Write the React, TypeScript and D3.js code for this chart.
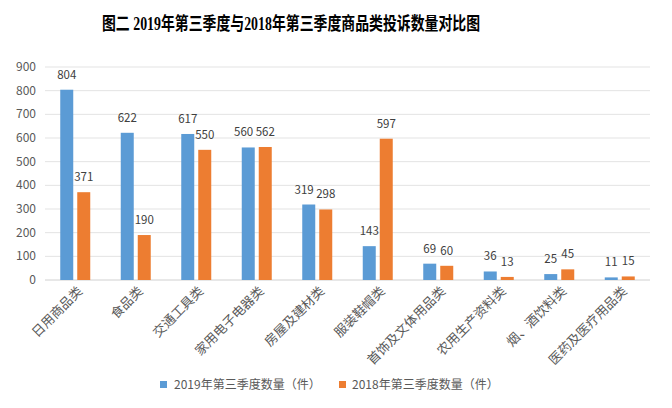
import React from "react";
import * as d3 from "d3";

const categories = ["日用商品类", "食品类", "交通工具类", "家用电子电器类", "房屋及建材类", "服装鞋帽类", "首饰及文体用品类", "农用生产资料类", "烟、酒饮料类", "医药及医疗用品类"];
const values2019 = [804, 622, 617, 560, 319, 143, 69, 36, 25, 11];
const values2018 = [371, 190, 550, 562, 298, 597, 60, 13, 45, 15];
const seriesNames = ["2019年第三季度数量（件）", "2018年第三季度数量（件）"];
const yTicks = [0, 100, 200, 300, 400, 500, 600, 700, 800, 900];
const title = "图二  2019年第三季度与2018年第三季度商品类投诉数量对比图";

const colors = ["#5B9BD5", "#ED7D31"];

export default function App() {
  const W = 672, H = 408;
  const left = 45, right = 650, top = 67, bottom = 280;
  const x = d3.scaleBand<string>().domain(categories).range([left, right]).paddingInner(0.47).paddingOuter(0.235);
  const y = d3.scaleLinear().domain([0, 900]).range([bottom, top]);
  const bw = 13, gap = 4;
  const font = "'Microsoft YaHei', 'Noto Sans CJK SC', sans-serif";
  const labelFs = 11.5;
  const digitW = labelFs * 0.57;
  return (
    <svg width={W} height={H} style={{ position: "absolute", left: 0, top: 0, background: "#fff" }}>
      <text x={102} y={30} textLength={378} lengthAdjust="spacingAndGlyphs" fontSize={18} fontWeight="bold" fontFamily="'Liberation Serif', 'Noto Sans CJK SC', serif" fill="#000">{title}</text>
      {yTicks.map(t => (
        <g key={t}>
          <line x1={left} x2={right} y1={y(t)} y2={y(t)} stroke={t === 0 ? "#d0d0d0" : "#e3e3e3"} strokeWidth={1} />
          <text x={36} y={y(t) + 4} textAnchor="end" fontSize={12} fontFamily={font} fill="#595959">{t}</text>
        </g>
      ))}
      {categories.map((c, i) => {
        const cx = (x(c) as number) + x.bandwidth() / 2;
        const b1 = cx - gap / 2 - bw, b2 = cx + gap / 2;
        const v1 = values2019[i], v2 = values2018[i];
        const w1 = String(v1).length * digitW, w2 = String(v2).length * digitW;
        let l1 = b1 + bw / 2, l2 = b2 + bw / 2;
        const ly1 = y(v1) - 11, ly2 = y(v2) - 11;
        if (Math.abs(ly1 - ly2) < 11) {
          const overlap = (l1 + w1 / 2 + 2) - (l2 - w2 / 2);
          if (overlap > 0) l1 -= overlap;
        }
        return (
          <g key={c}>
            <rect x={b1} y={y(v1)} width={bw} height={y(0) - y(v1)} fill={colors[0]} />
            <rect x={b2} y={y(v2)} width={bw} height={y(0) - y(v2)} fill={colors[1]} />
            <text x={l1} y={ly1} textAnchor="middle" fontSize={labelFs} fontFamily={font} fill="#404040">{v1}</text>
            <text x={l2} y={ly2} textAnchor="middle" fontSize={labelFs} fontFamily={font} fill="#404040">{v2}</text>
            <text transform={`translate(${cx + 8},${292}) rotate(-45)`} textAnchor="end" fontSize={13} fontFamily={font} fill="#595959">{c}</text>
          </g>
        );
      })}
      <g fontFamily={font} fontSize={12} fill="#595959">
        <rect x={160} y={381} width={7} height={7} fill={colors[0]} />
        <text x={174} y={389}>{seriesNames[0]}</text>
        <rect x={339} y={381} width={7} height={7} fill={colors[1]} />
        <text x={352} y={389}>{seriesNames[1]}</text>
      </g>
    </svg>
  );
}
